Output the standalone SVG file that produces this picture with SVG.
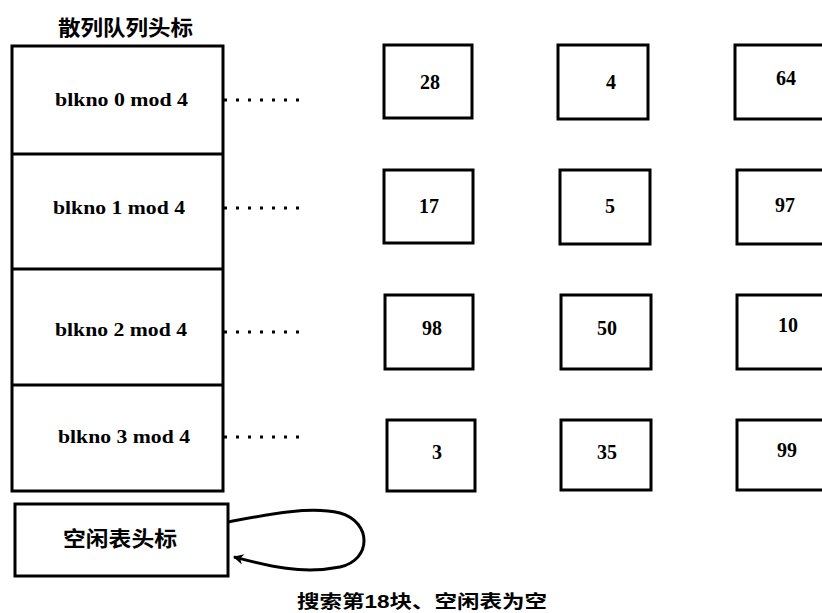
<svg xmlns="http://www.w3.org/2000/svg" width="822" height="613" viewBox="0 0 822 613">
<defs>
<style>
.box{fill:#fff;stroke:#000;stroke-width:3}
.lbl{font-family:"Liberation Serif",serif;font-weight:bold;font-size:19px;fill:#000}
.num{font-family:"Liberation Serif",serif;font-weight:bold;font-size:20px;fill:#000;text-anchor:middle}
.cjk{font-family:"Liberation Sans","Noto Sans CJK SC",sans-serif;font-weight:bold;fill:#000}
.dots{fill:none;stroke:#000;stroke-width:3;stroke-dasharray:3 9}
.loop{fill:none;stroke:#000;stroke-width:3}
</style>
<marker id="arr" viewBox="0 0 10 10" refX="9" refY="5" markerWidth="4.5" markerHeight="3.5" orient="auto" markerUnits="strokeWidth">
<path d="M0,0 L10,5 L0,10 L3,5 z" fill="#000"/>
</marker>
</defs>
<rect width="822" height="613" fill="#fff"/>
<text class="cjk" x="58" y="35" font-size="21" textLength="135" lengthAdjust="spacingAndGlyphs">散列队列头标</text>
<g id="hash-queue">
<rect class="box" x="12" y="46" width="211" height="445"/>
<line x1="12" y1="154" x2="223" y2="154" stroke="#000" stroke-width="3"/>
<line x1="12" y1="269" x2="223" y2="269" stroke="#000" stroke-width="3"/>
<line x1="12" y1="385" x2="223" y2="385" stroke="#000" stroke-width="3"/>
</g>
<g id="row0"><text class="lbl" x="55" y="106" textLength="133" lengthAdjust="spacingAndGlyphs">blkno 0 mod 4</text></g>
<g id="row1"><text class="lbl" x="53" y="214" textLength="132" lengthAdjust="spacingAndGlyphs">blkno 1 mod 4</text></g>
<g id="row2"><text class="lbl" x="55" y="336" textLength="132" lengthAdjust="spacingAndGlyphs">blkno 2 mod 4</text></g>
<g id="row3"><text class="lbl" x="58" y="443" textLength="132" lengthAdjust="spacingAndGlyphs">blkno 3 mod 4</text></g>
<g id="free-list">
<rect class="box" x="15" y="504" width="213" height="72"/>
<text class="cjk" x="63" y="546" font-size="21" textLength="114" lengthAdjust="spacingAndGlyphs">空闲表头标</text>
</g>
<g id="b28"><rect class="box" x="384" y="45" width="88" height="73"/><text class="num" x="430" y="89">28</text></g>
<g id="b4"><rect class="box" x="558" y="45" width="90" height="74"/><text class="num" x="611" y="89">4</text></g>
<g id="b64"><rect class="box" x="735" y="45" width="90" height="74"/><text class="num" x="786" y="85">64</text></g>
<g id="b17"><rect class="box" x="384" y="170" width="89" height="73"/><text class="num" x="429" y="213">17</text></g>
<g id="b5"><rect class="box" x="560" y="170" width="90" height="74"/><text class="num" x="610" y="213">5</text></g>
<g id="b97"><rect class="box" x="737" y="170" width="90" height="74"/><text class="num" x="785" y="212">97</text></g>
<g id="b98"><rect class="box" x="385" y="295" width="88" height="74"/><text class="num" x="432" y="335">98</text></g>
<g id="b50"><rect class="box" x="561" y="295" width="90" height="74"/><text class="num" x="607" y="335">50</text></g>
<g id="b10"><rect class="box" x="737" y="295" width="90" height="74"/><text class="num" x="788" y="332">10</text></g>
<g id="b3"><rect class="box" x="387" y="420" width="88" height="71"/><text class="num" x="437" y="459">3</text></g>
<g id="b35"><rect class="box" x="561" y="420" width="90" height="70"/><text class="num" x="607" y="459">35</text></g>
<g id="b99"><rect class="box" x="737" y="420" width="90" height="70"/><text class="num" x="787" y="457">99</text></g>
<g id="connectors">
<line class="dots" x1="224" y1="100" x2="300" y2="100"/>
<line class="dots" x1="224" y1="208" x2="300" y2="208"/>
<line class="dots" x1="224" y1="332" x2="300" y2="332"/>
<line class="dots" x1="224" y1="437" x2="300" y2="437"/>
<path class="loop" d="M228,522 C270,514 310,506 340,513 C372,522 372,560 340,567 C300,575 265,565 234,557" marker-end="url(#arr)"/>
</g>
<text class="cjk" x="297" y="608" font-size="18" textLength="250" lengthAdjust="spacingAndGlyphs">搜索第18块、空闲表为空</text>
</svg>
